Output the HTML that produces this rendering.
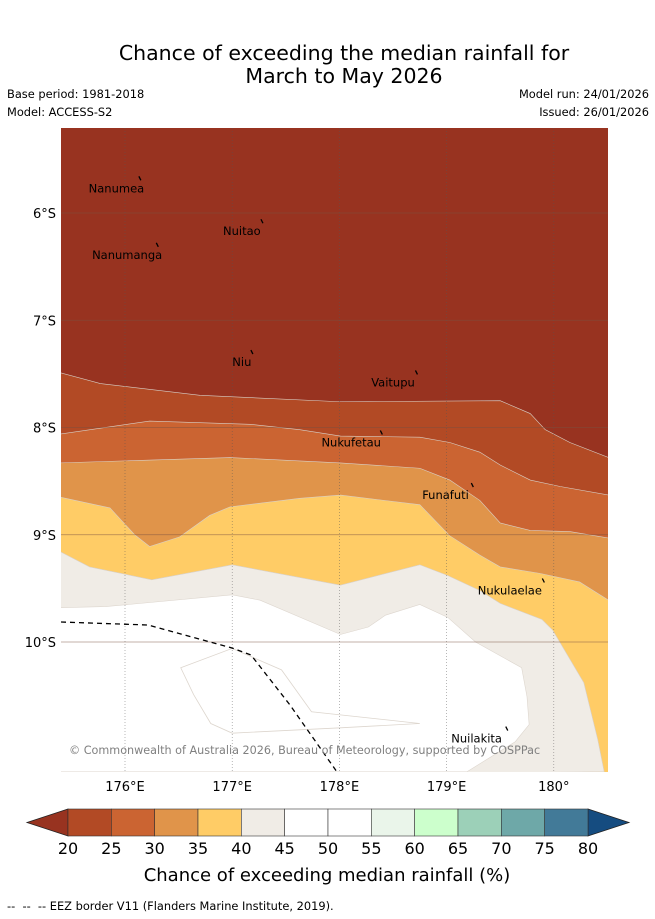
<!DOCTYPE html>
<html><head><meta charset="utf-8">
<style>
body{margin:0;background:#fff;font-family:"DejaVu Sans","Liberation Sans",sans-serif;}
#wrap{position:relative;width:655px;height:919px;overflow:hidden;}
.t{position:absolute;white-space:nowrap;color:#000;}
</style></head>
<body>
<div id="wrap">
<div class="t" style="left:0;width:688px;top:42px;text-align:center;font-size:20.5px;line-height:23px;">Chance of exceeding the median rainfall for<br>March to May 2026</div>
<div class="t" style="left:7px;top:87px;font-size:11.4px;">Base period: 1981-2018</div>
<div class="t" style="left:7px;top:105px;font-size:11.4px;">Model: ACCESS-S2</div>
<div class="t" style="right:6px;top:87px;font-size:11.4px;">Model run: 24/01/2026</div>
<div class="t" style="right:6px;top:105px;font-size:11.4px;">Issued: 26/01/2026</div>
<svg id="map" width="655" height="919" style="position:absolute;left:0;top:0"></svg>
<div class="t" style="left:7px;top:899px;font-size:11.4px;">-- &nbsp;-- &nbsp;-- EEZ border V11 (Flanders Marine Institute, 2019).</div>
</div>
<script>
const b20Lon=[175.40,175.77,176.70,178.01,179.50,179.78,179.92,180.15,180.51];
const b20Lat=[7.49,7.59,7.70,7.76,7.75,7.87,8.02,8.14,8.28];
const b25Lon=[175.40,176.23,177.17,177.63,178.01,178.75,179.03,179.31,179.50,179.78,180.06,180.51];
const b25Lat=[8.06,7.94,7.97,8.02,8.08,8.09,8.14,8.23,8.35,8.49,8.55,8.63];
const b30Lon=[175.40,176.98,178.01,178.75,179.03,179.31,179.50,179.78,180.15,180.51];
const b30Lat=[8.33,8.28,8.33,8.38,8.49,8.68,8.89,8.96,8.97,9.03];
const b35Lon=[175.40,175.86,176.09,176.23,176.51,176.79,176.98,177.63,178.01,178.75,179.03,179.31,179.50,179.87,180.24,180.51];
const b35Lat=[8.65,8.75,9.00,9.11,9.02,8.82,8.74,8.66,8.63,8.72,9.01,9.19,9.30,9.36,9.44,9.61];
const b40Lon=[175.40,175.67,176.25,177.00,178.01,178.75,179.01,179.31,179.50,179.89,179.99,180.28,180.41,180.47];
const b40Lat=[9.16,9.30,9.42,9.28,9.47,9.28,9.38,9.52,9.64,9.79,9.89,10.38,10.91,11.21];
const w45Lon=[175.40,175.82,177.00,177.26,178.01,178.27,178.43,178.75,179.01,179.27,179.70,179.75,179.77,179.64,179.19,175.40];
const w45Lat=[9.68,9.67,9.56,9.61,9.93,9.86,9.75,9.65,9.77,10.00,10.24,10.51,10.77,10.93,11.21,11.21];
const inLon=[176.52,177.00,177.46,177.74,178.75,178.01,177.00,176.80,176.64];
const inLat=[10.24,10.06,10.26,10.65,10.76,10.80,10.85,10.76,10.49];
const lonTicks=[176,177,178,179,180];
const latTicks=[6,7,8,9,10];
const cbLevels=[20,25,30,35,40,45,50,55,60,65,70,75,80];
const cbColors=['#B24A25','#CB6432','#E0944A','#FFCC66','#F0ECE6','#FFFFFF','#FFFFFF','#EAF5EA','#CCFFCC','#9CD0B8','#6EA8A8','#427A98'];
const islands=['Nanumea','Nuitao','Nanumanga','Niu','Vaitupu','Nukufetau','Funafuti','Nukulaelae','Nuilakita'];
const islLon=[175.92,177.09,176.02,177.09,178.50,178.11,178.99,179.59,179.28];
const islLat=[5.77,6.17,6.39,7.39,7.58,8.14,8.63,9.52,10.90];

const NS='http://www.w3.org/2000/svg';
const FF='DejaVu Sans, Liberation Sans, sans-serif';
const svg=document.getElementById('map');
const X0=61,X1=608,Y0=128,Y1=772;
const px=lon=>125+(lon-176)*107.2;
const py=lat=>213+(lat-6)*107.25;
function mk(tag,attrs,parent){const e=document.createElementNS(NS,tag);for(const k in attrs)e.setAttribute(k,attrs[k]);(parent||svg).appendChild(e);return e;}
const cp=mk('clipPath',{id:'clip'});mk('rect',{x:X0,y:Y0,width:X1-X0,height:Y1-Y0},cp);
const g=mk('g',{'clip-path':'url(#clip)'});
mk('rect',{x:X0,y:Y0,width:X1-X0,height:Y1-Y0,fill:'#983320'},g);
function band(lons,lats,color,name,toRight){
  let d='M'+px(lons[0])+','+py(lats[0]);
  for(let i=1;i<lons.length;i++)d+=' L'+px(lons[i])+','+py(lats[i]);
  if(toRight) d+=' L'+(X1+5)+','+(Y1+5);
  d+=' L'+(X0-5)+','+(Y1+5)+' Z';
  const p=mk('path',{d:d,fill:color,stroke:'#d8d0c8','stroke-width':0.6},g);
  
  
}
band(b20Lon,b20Lat,'#B24A25','band-20-25',true);
band(b25Lon,b25Lat,'#CB6432','band-25-30',true);
band(b30Lon,b30Lat,'#E0944A','band-30-35',true);
band(b35Lon,b35Lat,'#FFCC66','band-35-40',true);
band(b40Lon,b40Lat,'#F0ECE6','band-40-45',false);
(function(){let d='';for(let i=0;i<w45Lon.length;i++)d+=(i?' L':'M')+px(w45Lon[i])+','+py(w45Lat[i]);d+=' Z';
const p=mk('path',{d:d,fill:'#FFFFFF',stroke:'#ddd6ce','stroke-width':0.6},g);


let d2='';for(let i=0;i<inLon.length;i++)d2+=(i?' L':'M')+px(inLon[i])+','+py(inLat[i]);d2+=' Z';
const q=mk('path',{d:d2,fill:'none',stroke:'#ddd6ce','stroke-width':0.8},g);

})();
lonTicks.forEach(l=>{const x=px(l);const ln=mk('line',{x1:x,x2:x,y1:Y0,y2:Y1,stroke:'#555','stroke-width':0.6,'stroke-dasharray':'1,2',opacity:0.7},g);


const t=mk('text',{x:x,y:791,'font-size':13,'text-anchor':'middle','font-family':FF});t.textContent=l+'°'+(l<180?'E':'');

});
latTicks.forEach(l=>{const y=py(l);const ln=mk('line',{x1:X0,x2:X1,y1:y,y2:y,stroke:'#7a5040','stroke-width':0.7,opacity:0.6},g);


const t=mk('text',{x:56,y:y+5,'font-size':13,'text-anchor':'end','font-family':FF});t.textContent=l+'°S';

});
const eez=mk('path',{d:'M61,622 L148,625 L232,648 L251,655 L290,705 L337,772',fill:'none',stroke:'#000','stroke-width':1.3,'stroke-dasharray':'5,4'},g);


islands.forEach((n,i)=>{const x=px(islLon[i]),y=py(islLat[i]);
const t=mk('text',{x:x,y:y+4,'font-size':11.5,'text-anchor':'middle','font-family':FF},g);t.textContent=n;


const w=n.length*6.7;
const m=mk('line',{x1:x+w/2-1,y1:y-12,x2:x+w/2+1,y2:y-8,stroke:'#000','stroke-width':1.3},g);

});
const cr=mk('text',{x:69,y:754,'font-size':11.2,fill:'#808080','font-family':FF},g);cr.textContent='© Commonwealth of Australia 2026, Bureau of Meteorology, supported by COSPPac';


const cbX0=68,cbX1=588,cbY=809,cbH=27,sw=(cbX1-cbX0)/cbColors.length;
const la=mk('path',{d:`M${cbX0},${cbY} L27,${cbY+cbH/2} L${cbX0},${cbY+cbH} Z`,fill:'#983320',stroke:'#222','stroke-width':0.8});


const ra=mk('path',{d:`M${cbX1},${cbY} L629,${cbY+cbH/2} L${cbX1},${cbY+cbH} Z`,fill:'#154C80',stroke:'#222','stroke-width':0.8});


cbColors.forEach((c,i)=>{const r=mk('rect',{x:cbX0+i*sw,y:cbY,width:sw,height:cbH,fill:c,stroke:'#333','stroke-width':0.6});

});
cbLevels.forEach((v,i)=>{const t=mk('text',{x:cbX0+i*sw,y:854,'font-size':16,'text-anchor':'middle','font-family':FF});t.textContent=v;

});
const ct=mk('text',{x:327,y:881,'font-size':18,'text-anchor':'middle','font-family':FF});ct.textContent='Chance of exceeding median rainfall (%)';


</script>
</body></html>
